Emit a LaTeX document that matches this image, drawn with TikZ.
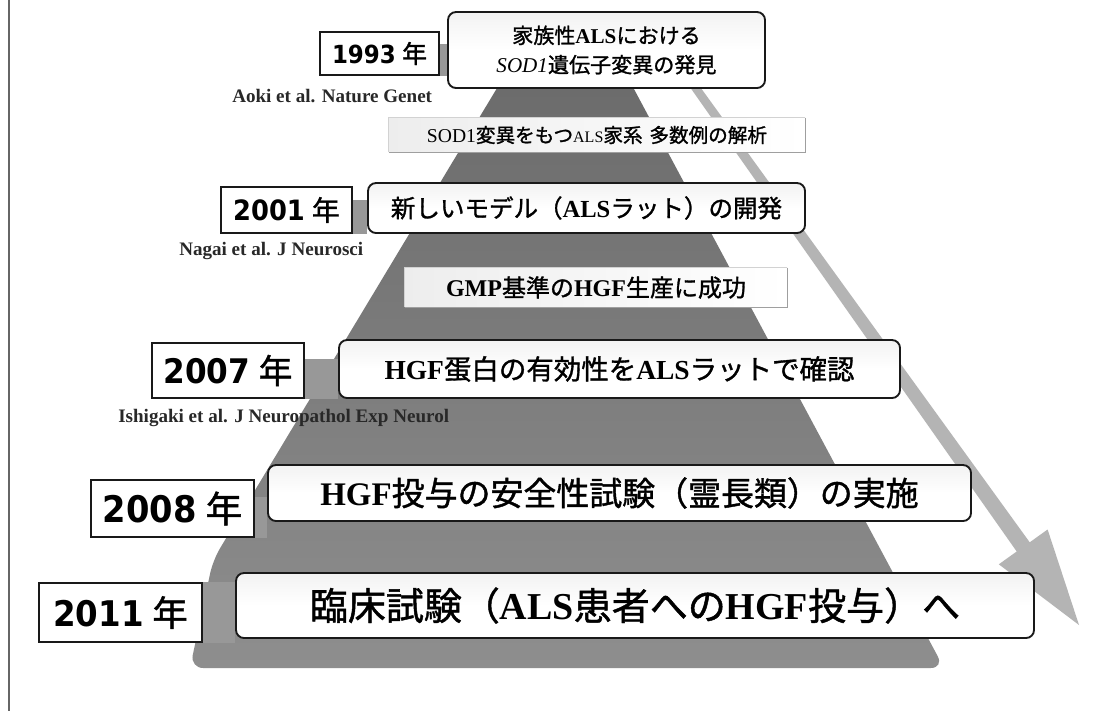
\documentclass[tikz,border=0pt]{standalone}
\usepackage{fontspec}
\setmainfont{Liberation Serif}
\newfontfamily\jp[FakeBold=1.2]{Noto Sans CJK JP}
\newfontfamily\yr[FakeStretch=0.92]{DejaVu Sans}
\newfontfamily\tm{Liberation Serif}
\usetikzlibrary{fit,backgrounds,calc}
\newcommand\J[1]{{\jp #1}}
\newcommand\T[1]{{\tm\bfseries #1}}
\newcommand\fsz[1]{\fontsize{#1}{1.2\dimexpr#1\relax}\selectfont}
\definecolor{pyr}{RGB}{104,104,104}
\definecolor{pyrb}{RGB}{142,142,142}
\definecolor{bandc}{RGB}{152,152,152}
\definecolor{arrc}{RGB}{180,180,180}
\definecolor{cite}{RGB}{40,40,40}
\tikzset{
  yearbox/.style={draw=black!90, line width=1.6pt, fill=white, inner sep=0pt},
  descbox/.style={draw=black!90, line width=1.4pt, rounded corners=6pt, top color=gray!10, bottom color=white, middle color=white, inner sep=0pt},
  notebox/.style={inner sep=0pt, left color=gray!14, right color=white},
  band/.style={fill=bandc},
  citetext/.style={text=cite, inner sep=0pt, anchor=west},
  t/.style={inner sep=0pt}
}
\begin{document}
\begin{tikzpicture}[x=0.75pt,y=-0.75pt]
\useasboundingbox (0,0) rectangle (1105,711);
\draw[gray!80!black, line width=1.5pt] (9,0) -- (9,711);

% year boxes
\node[yearbox, fit={(320,32) (439,75)}] (y1993) {};
\node[t] at (y1993) {\fsz{18.7pt}{\yr\bfseries 1993} \J{年}};
\node[yearbox, fit={(221,187) (352,233)}] (y2001) {};
\node[t] at (y2001) {\fsz{21pt}{\yr\bfseries 2001} \J{年}};
\node[yearbox, fit={(152,343) (304,398)}] (y2007) {};
\node[t] at (y2007) {\fsz{25.4pt}{\yr\bfseries 2007} \J{年}};
\node[yearbox, fit={(91,480) (254,537)}] (y2008) {};
\node[t] at (y2008) {\fsz{27.5pt}{\yr\bfseries 2008} \J{年}};
\node[yearbox, fit={(39,583) (202,642)}] (y2011) {};
\node[t] at (y2011) {\fsz{26.5pt}{\yr\bfseries 2011} \J{年}};

% description boxes
\node[descbox, fit={(448,12) (765,88)}] (d1993) {};
\node[t, align=center, font=\fsz{15.8pt}] at (d1993) {\J{家族性}\T{ALS}\J{における}\\[3pt]{\itshape SOD1}\J{遺伝子変異の発見}};
\node[notebox, fit={(389,118) (805,152)}] (n1) {};
\draw[gray!35, line width=0.8pt] (n1.south west) -- (n1.north west) -- (n1.north east);
\draw[gray!75, line width=1pt] (n1.north east) -- (n1.south east) -- (n1.south west);
\node[t] at (n1) {\fsz{14.7pt}{\tm SOD1}\J{変異をもつ}{\tm\fsz{12pt}ALS}\J{家系}\hspace{0.35em}\J{多数例の解析}};
\node[descbox, fit={(368,183) (805,233)}] (d2001) {};
\node[t] at (d2001) {\fsz{18.4pt}\J{新しいモデル（}\T{ALS}\J{ラット）の開発}};
\node[notebox, fit={(405,268) (787,307)}] (n2) {};
\draw[gray!35, line width=0.8pt] (n2.south west) -- (n2.north west) -- (n2.north east);
\draw[gray!75, line width=1pt] (n2.north east) -- (n2.south east) -- (n2.south west);
\node[t] at (n2) {\fsz{18pt}\T{GMP}\J{基準の}\T{HGF}\J{生産に成功}};
\node[descbox, fit={(339,340) (900,398)}] (d2007) {};
\node[t] at (d2007) {\fsz{20.6pt}\T{HGF}\J{蛋白の有効性を}\T{ALS}\J{ラットで確認}};
\node[descbox, fit={(268,465) (971,521)}] (d2008) {};
\node[t] at (d2008) {\fsz{24.7pt}\T{HGF}\J{投与の安全性試験（霊長類）の実施}};
\node[descbox, fit={(236,573) (1034,638)}] (d2011) {};
\node[t] at (d2011) {\fsz{28.5pt}\J{臨床試験（}\T{ALS}\J{患者への}\T{HGF}\J{投与）へ}};

% citations
\node[citetext] (c1) at (232,96) {\fsz{14.3pt}\bfseries Aoki et al. Nature Genet};
\node[citetext] (c2) at (179,251) {\fsz{14.3pt}\bfseries Nagai et al. J Neurosci};
\node[citetext] (c3) at (118,418) {\fsz{14.3pt}\bfseries Ishigaki et al. J Neuropathol Exp Neurol};

\begin{scope}[on background layer]
  \fill[white] (0,0) rectangle (1105,711);
  % pyramid
  \shade[top color=pyr, middle color=pyr, bottom color=pyrb, rounded corners=10pt]
    (538,20) -- (597,20) -- (944,668) -- (190,668) -- (213,560) -- cycle;
  % arrow
  \fill[arrc] (683.3,63.7) -- (1029.7,542.3) -- (1047.6,529.5) -- (1079,625)
    -- (998.8,564.3) -- (1016.7,551.5) -- (676.7,68.3) -- cycle;
  % connector bands
  \fill[band] ($(y1993.north east)!0.3!(y1993.south east)$) rectangle (d1993.west |- y1993.south);
  \fill[band] ($(y2001.north east)!0.3!(y2001.south east)$) rectangle (d2001.west |- y2001.south);
  \fill[band] ($(y2007.north east)!0.3!(y2007.south east)$) rectangle (d2007.west |- y2007.south);
  \fill[band] ($(y2008.north east)!0.3!(y2008.south east)$) rectangle (d2008.west |- y2008.south);
  \fill[band] (y2011.north east) rectangle (d2011.west |- y2011.south);
\end{scope}
\end{tikzpicture}
\end{document}
